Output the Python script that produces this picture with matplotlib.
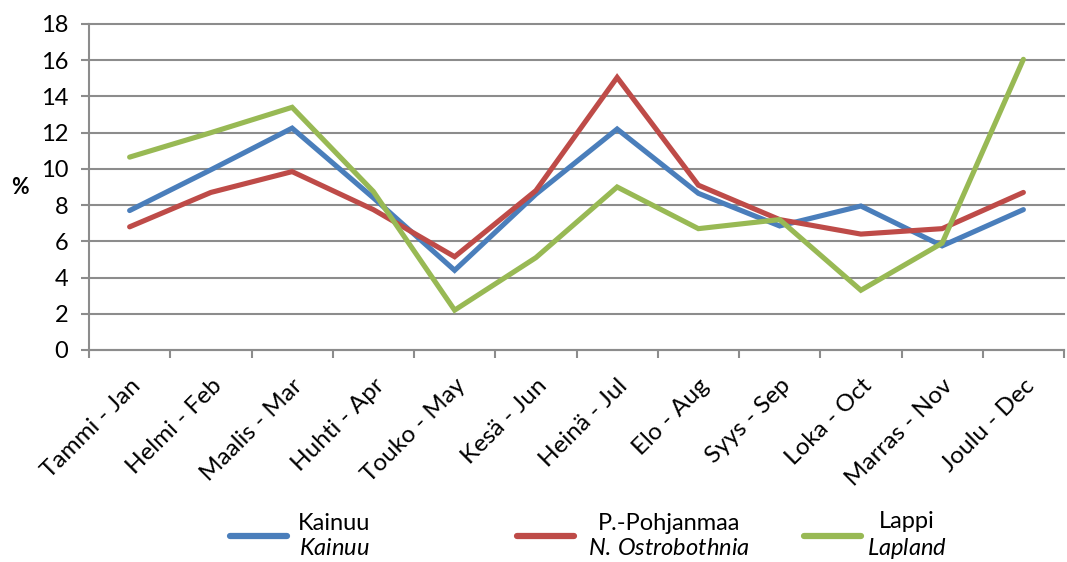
import matplotlib
matplotlib.use("Agg")
import matplotlib.pyplot as plt
from matplotlib.ticker import FixedLocator

months = ["Tammi - Jan", "Helmi - Feb", "Maalis - Mar", "Huhti - Apr", "Touko - May",
          "Kesä - Jun", "Heinä - Jul", "Elo - Aug", "Syys - Sep", "Loka - Oct",
          "Marras - Nov", "Joulu - Dec"]
kainuu = [7.7, 9.95, 12.25, 8.4, 4.4, 8.6, 12.2, 8.65, 6.85, 7.95, 5.75, 7.75]
pohjanmaa = [6.8, 8.7, 9.85, 7.75, 5.15, 8.8, 15.05, 9.1, 7.2, 6.4, 6.7, 8.7]
lappi = [10.65, 12.0, 13.4, 8.75, 2.2, 5.1, 9.0, 6.7, 7.2, 3.3, 5.9, 16.05]
yticks = list(range(0, 19, 2))
legend_labels = ['Kainuu\n$\\it{Kainuu}$',
                 'P.-Pohjanmaa\n$\\it{N.\\,Ostrobothnia}$',
                 'Lappi\n$\\it{Lapland}$']

plt.rcParams['font.family'] = ['Lato', 'DejaVu Sans']
plt.rcParams['mathtext.fontset'] = 'custom'
plt.rcParams['mathtext.it'] = 'Lato:italic'
plt.rcParams['mathtext.rm'] = 'Lato'

W, H = 1067, 562
fig = plt.figure(figsize=(W / 100, H / 100), dpi=100)
ax = fig.add_axes([89/W, 1-350/H, (1064-89)/W, (350-24)/H])

x = list(range(len(months)))
lw = 3.7
colors = ['#4a7ebb', '#be4b48', '#98b954']
lines = []
for vals, c in zip([kainuu, pohjanmaa, lappi], colors):
    ln, = ax.plot(x, vals, color=c, lw=lw, solid_capstyle='round', solid_joinstyle='miter', zorder=3)
    lines.append(ln)

grey = '#8c8c8c'
ax.set_xlim(-0.5, len(months) - 0.5)
ax.set_ylim(0, 18)
ax.set_yticks(yticks)
ax.set_xticks(x)
ax.set_xticklabels(months, rotation=45, ha='right', rotation_mode='anchor', fontsize=17.5)
ax.xaxis.set_minor_locator(FixedLocator([i - 0.5 for i in range(len(months) + 1)]))
ax.tick_params(axis='x', which='major', length=0, pad=18)
ax.tick_params(axis='x', which='minor', length=6, width=1.5, color=grey, direction='out')
ax.tick_params(axis='y', length=6, width=1.5, color=grey, direction='out', labelsize=17, pad=9)
ax.yaxis.grid(True, color=grey, lw=1.5)
for gl in ax.get_ygridlines():
    gl.set_clip_on(False)
ax.set_axisbelow(True)
for s in ['top', 'right']:
    ax.spines[s].set_visible(False)
for s in ['left', 'bottom']:
    ax.spines[s].set_color(grey)
    ax.spines[s].set_linewidth(1.5)

fig.text(20/W, 1-188/H, '%', fontsize=15.5, fontweight='bold', ha='center', va='center')

fs = 17
em = fs * 100 / 72
handle_starts = [230, 517, 804]
text_pads = [11, 14, 6]
for ln, lab, hx, tp in zip(lines, legend_labels, handle_starts, text_pads):
    leg = fig.legend([ln], [lab], loc='center left', bbox_to_anchor=(hx / W, 1 - 536 / H),
                     frameon=False, fontsize=fs, handlelength=57 / em, handletextpad=tp / em,
                     borderpad=0, borderaxespad=0)
    for t in leg.get_texts():
        t.set_multialignment('center')
        t.set_linespacing(1.2)
    for h in leg.get_lines():
        h.set_linewidth(4.5)
        h.set_solid_capstyle('round')

fig.savefig('out.png', dpi=100)
